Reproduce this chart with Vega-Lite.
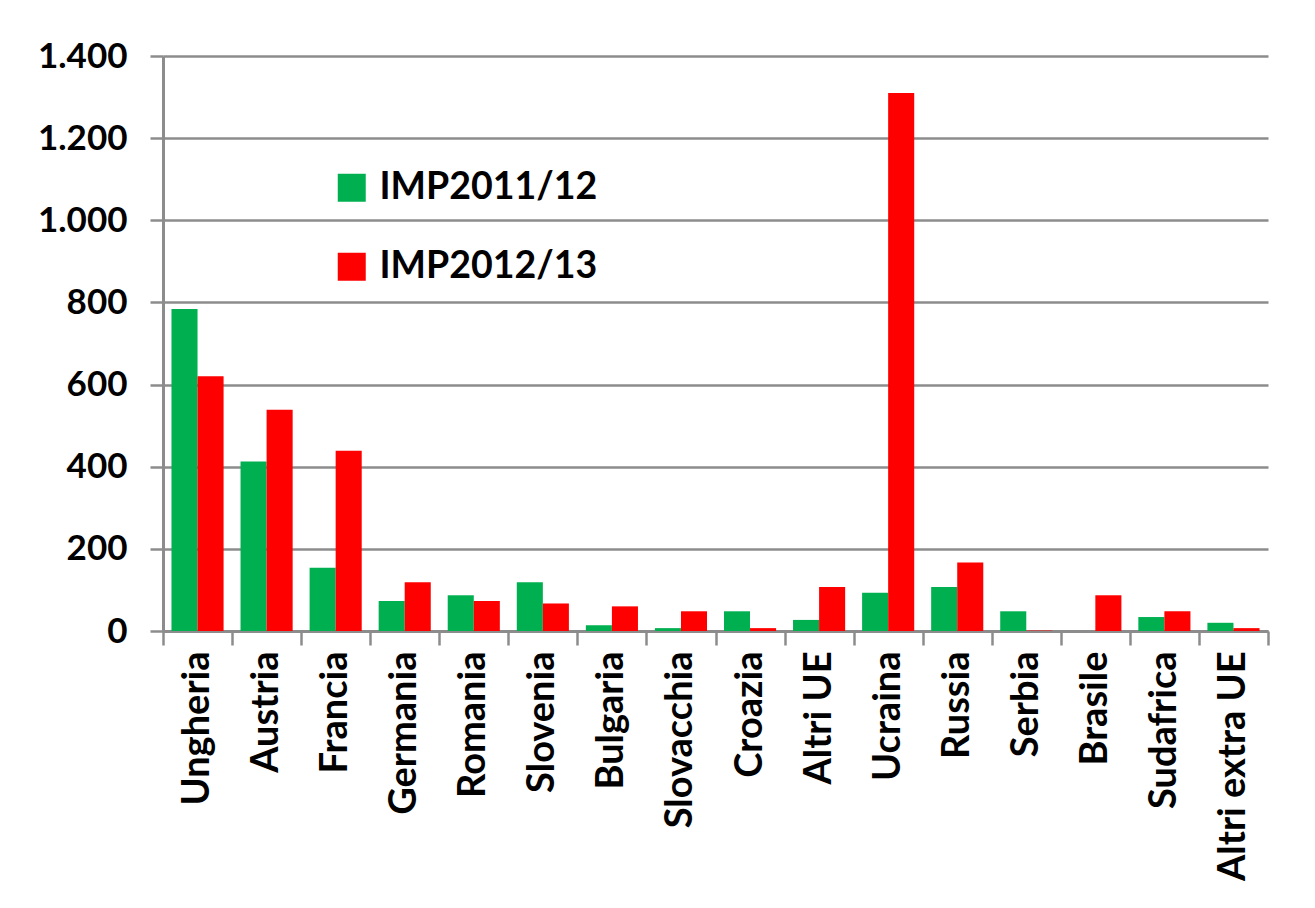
{
  "$schema": "https://vega.github.io/schema/vega-lite/v6.json",
  "width": 1105,
  "height": 575,
  "autosize": {"type": "none"},
  "padding": {"left": 163, "top": 56, "right": 47, "bottom": 277},
  "background": "white",
  "config": {
    "locale": {"number": {"decimal": ",", "thousands": ".", "grouping": [3], "currency": ["€", ""]}},
    "view": {"stroke": null},
    "font": "Lato"
  },
  "data": {
    "values": [
      {"paese": "Ungheria", "serie": "IMP2011/12", "valore": 784},
      {"paese": "Ungheria", "serie": "IMP2012/13", "valore": 620},
      {"paese": "Austria", "serie": "IMP2011/12", "valore": 413},
      {"paese": "Austria", "serie": "IMP2012/13", "valore": 539},
      {"paese": "Francia", "serie": "IMP2011/12", "valore": 154},
      {"paese": "Francia", "serie": "IMP2012/13", "valore": 439},
      {"paese": "Germania", "serie": "IMP2011/12", "valore": 73},
      {"paese": "Germania", "serie": "IMP2012/13", "valore": 119},
      {"paese": "Romania", "serie": "IMP2011/12", "valore": 87},
      {"paese": "Romania", "serie": "IMP2012/13", "valore": 73},
      {"paese": "Slovenia", "serie": "IMP2011/12", "valore": 119},
      {"paese": "Slovenia", "serie": "IMP2012/13", "valore": 67},
      {"paese": "Bulgaria", "serie": "IMP2011/12", "valore": 14},
      {"paese": "Bulgaria", "serie": "IMP2012/13", "valore": 60},
      {"paese": "Slovacchia", "serie": "IMP2011/12", "valore": 7},
      {"paese": "Slovacchia", "serie": "IMP2012/13", "valore": 48},
      {"paese": "Croazia", "serie": "IMP2011/12", "valore": 48},
      {"paese": "Croazia", "serie": "IMP2012/13", "valore": 7},
      {"paese": "Altri UE", "serie": "IMP2011/12", "valore": 27},
      {"paese": "Altri UE", "serie": "IMP2012/13", "valore": 107},
      {"paese": "Ucraina", "serie": "IMP2011/12", "valore": 93},
      {"paese": "Ucraina", "serie": "IMP2012/13", "valore": 1310},
      {"paese": "Russia", "serie": "IMP2011/12", "valore": 107},
      {"paese": "Russia", "serie": "IMP2012/13", "valore": 167},
      {"paese": "Serbia", "serie": "IMP2011/12", "valore": 48},
      {"paese": "Serbia", "serie": "IMP2012/13", "valore": 1},
      {"paese": "Brasile", "serie": "IMP2011/12", "valore": 0},
      {"paese": "Brasile", "serie": "IMP2012/13", "valore": 87},
      {"paese": "Sudafrica", "serie": "IMP2011/12", "valore": 34},
      {"paese": "Sudafrica", "serie": "IMP2012/13", "valore": 48},
      {"paese": "Altri extra UE", "serie": "IMP2011/12", "valore": 20},
      {"paese": "Altri extra UE", "serie": "IMP2012/13", "valore": 7}
    ]
  },
  "mark": {"type": "bar"},
  "encoding": {
    "x": {
      "field": "paese",
      "type": "nominal",
      "sort": null,
      "title": null,
      "scale": {"paddingInner": 0, "paddingOuter": 0},
      "axis": {
        "labelAngle": -90,
        "labelAlign": "right",
        "labelBaseline": "middle",
        "labelFont": "Lato",
        "labelFontWeight": "bold",
        "labelFontSize": 38,
        "labelColor": "black",
        "labelPadding": 6,
        "labelLimit": 0,
        "tickBand": "extent",
        "tickSize": 14,
        "tickWidth": 2.5,
        "tickColor": "#8c8c8c",
        "domainColor": "#8c8c8c",
        "domainWidth": 3,
        "grid": false
      }
    },
    "xOffset": {"field": "serie", "type": "nominal", "sort": ["IMP2011/12", "IMP2012/13"], "scale": {"paddingInner": 0, "paddingOuter": 0.325}},
    "y": {
      "field": "valore",
      "type": "quantitative",
      "title": null,
      "scale": {"domain": [0, 1400], "nice": false},
      "axis": {
        "values": [0, 200, 400, 600, 800, 1000, 1200, 1400],
        "format": ",d",
        "labelFont": "Lato",
        "labelFontWeight": "bold",
        "labelFontSize": 35,
        "labelColor": "black",
        "labelPadding": 23,
        "tickSize": 13,
        "tickWidth": 2.5,
        "tickColor": "#8c8c8c",
        "domainColor": "#8c8c8c",
        "domainWidth": 3,
        "grid": true,
        "gridColor": "#8c8c8c",
        "gridWidth": 2.5
      }
    },
    "color": {
      "field": "serie",
      "type": "nominal",
      "scale": {"domain": ["IMP2011/12", "IMP2012/13"], "range": ["#00b050", "#ff0000"]},
      "legend": {
        "title": null,
        "orient": "none",
        "legendX": 170,
        "legendY": 113,
        "symbolType": "square",
        "symbolSize": 784,
        "symbolStrokeWidth": 0,
        "labelFont": "Lato",
        "labelFontWeight": "bold",
        "labelFontSize": 37.5,
        "labelColor": "black",
        "labelOffset": 9,
        "labelLimit": 0,
        "rowPadding": 40
      }
    }
  }
}
